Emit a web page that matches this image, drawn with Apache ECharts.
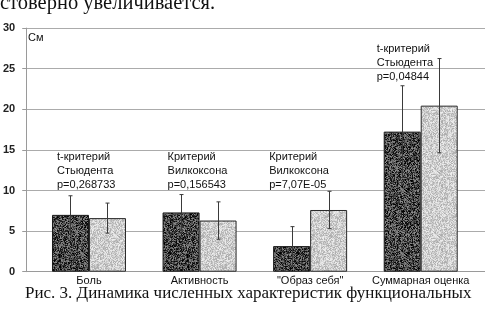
<!DOCTYPE html>
<html>
<head>
<meta charset="utf-8">
<script src="https://cdn.jsdelivr.net/npm/echarts@6/dist/echarts.min.js"></script>
<style>
html,body{margin:0;padding:0;background:#fff;}
#chart{width:485px;height:314px;}
</style>
</head>
<body>
<div id="chart"></div>
<script>
// ---- data ----
const categories = ['Боль', 'Активность', '"Образ себя"', 'Суммарная оценка'];
const beforeValues = [7.0, 7.3, 3.15, 17.25];
const afterValues = [6.6, 6.3, 7.6, 20.45];
const beforeErrors = [2.35, 2.2, 2.4, 5.65];
const afterErrors = [1.85, 2.3, 2.3, 5.8];
const testLabels = [
  't-критерий\nСтьюдента\np=0,268733',
  'Критерий\nВилкоксона\np=0,156543',
  'Критерий\nВилкоксона\np=7,07E-05',
  't-критерий\nСтьюдента\np=0,04844'
];
const testLabelLevels = [15, 15, 15, 28.25];
const yMin = 0, yMax = 30, yStep = 5;
const unitLabel = 'См';
const topText = 'стоверно увеличивается.';
const captionText = 'Рис. 3. Динамика численных характеристик функциональных';

// ---- styling helpers ----
const labelDx = [-32, -32, -41, -44];
const BAR_W = 37;
const FONT = '"Liberation Sans", Arial, sans-serif';
const SERIF = '"Liberation Serif", "Times New Roman", serif';

function makePattern(base, spread, seed) {
  const n = 64;
  const c = document.createElement('canvas');
  c.width = n; c.height = n;
  const ctx = c.getContext('2d');
  const img = ctx.createImageData(n, n);
  let s = seed;
  function rnd() { s = (s * 1103515245 + 12345) & 0x7fffffff; return s / 0x7fffffff; }
  for (let i = 0; i < n * n; i++) {
    let v = base + (rnd() - 0.5) * spread;
    v = Math.max(0, Math.min(255, v));
    img.data[i * 4] = v; img.data[i * 4 + 1] = v; img.data[i * 4 + 2] = v; img.data[i * 4 + 3] = 255;
  }
  ctx.putImageData(img, 0, 0);
  return { image: c, repeat: 'repeat' };
}
const darkFill = makePattern(70, 150, 12345);
const lightFill = makePattern(205, 70, 98765);

function errData(vals, errs) {
  return vals.map((v, i) => [i, v - errs[i], v + errs[i]]);
}
function errRender(sign) {
  return function (params, api) {
    const i = api.value(0);
    const lo = api.coord([i, api.value(1)]);
    const hi = api.coord([i, api.value(2)]);
    const x = Math.round(lo[0] + sign * BAR_W / 2) + 0.5;
    const st = { stroke: '#3a3a3a', lineWidth: 1 };
    return {
      type: 'group',
      children: [
        { type: 'line', shape: { x1: x, y1: lo[1], x2: x, y2: hi[1] }, style: st },
        { type: 'line', shape: { x1: x - 2, y1: lo[1], x2: x + 2, y2: lo[1] }, style: st },
        { type: 'line', shape: { x1: x - 2, y1: hi[1], x2: x + 2, y2: hi[1] }, style: st }
      ]
    };
  };
}

const chart = echarts.init(document.getElementById('chart'), null, { renderer: 'canvas' });
const option = {
  backgroundColor: '#fff',
  animation: false,
  grid: [
    { left: 24, right: 0, top: 28.1, bottom: 42.3 },
    { left: 33.7, right: 9, top: 28.1, bottom: 42.3 }
  ],
  xAxis: [
    { gridIndex: 0, type: 'category', data: categories,
      axisLabel: { show: false }, axisTick: { show: false },
      axisLine: { show: true, lineStyle: { color: '#9a9a9a', width: 1 } } },
    { gridIndex: 1, type: 'category', data: categories,
      axisLine: { show: false }, axisTick: { show: false },
      axisLabel: { show: true, color: '#111', fontFamily: FONT, fontSize: 11, margin: 4, interval: 0 } }
  ],
  yAxis: [
    { gridIndex: 0, type: 'value', min: yMin, max: yMax, interval: yStep,
      axisLine: { show: true, lineStyle: { color: '#9a9a9a', width: 1 } },
      axisTick: { show: true, length: 4, lineStyle: { color: '#9a9a9a' } },
      splitLine: { show: true, lineStyle: { color: '#ababab', width: 1 } },
      axisLabel: { color: '#222', fontFamily: FONT, fontSize: 11, margin: 11, fontWeight: 'bold' } },
    { gridIndex: 1, type: 'value', min: yMin, max: yMax, interval: yStep, show: false }
  ],
  series: [
    { type: 'bar', xAxisIndex: 1, yAxisIndex: 1, data: beforeValues, barWidth: BAR_W, barGap: '0%',
      itemStyle: { color: darkFill, borderColor: '#1a1a1a', borderWidth: 1 }, z: 2 },
    { type: 'bar', xAxisIndex: 1, yAxisIndex: 1, data: afterValues, barWidth: BAR_W, barGap: '0%',
      itemStyle: { color: lightFill, borderColor: '#2a2a2a', borderWidth: 1 }, z: 2 },
    { type: 'custom', xAxisIndex: 1, yAxisIndex: 1, data: errData(beforeValues, beforeErrors),
      renderItem: errRender(-1), z: 5, clip: false },
    { type: 'custom', xAxisIndex: 1, yAxisIndex: 1, data: errData(afterValues, afterErrors),
      renderItem: errRender(1), z: 5, clip: false },
    { type: 'custom', xAxisIndex: 1, yAxisIndex: 1, z: 6, clip: false,
      data: testLabelLevels.map((v, i) => [i, v]),
      renderItem: function (params, api) {
        const i = api.value(0);
        const p = api.coord([i, api.value(1)]);
        return { type: 'text', x: p[0] + labelDx[params.dataIndex], y: p[1],
          style: { text: testLabels[params.dataIndex], fill: '#111', font: '11px ' + FONT,
            align: 'left', verticalAlign: 'top', lineHeight: 14 } };
      } }
  ],
  graphic: [
    { type: 'text', left: 28, top: 32, style: { text: unitLabel, fill: '#111', font: '11px ' + FONT } },
    { type: 'text', x: 0, y: 3.6, style: { text: topText, fill: '#111', font: '20.5px ' + SERIF, verticalAlign: 'middle', align: 'left' } },
    { type: 'text', x: 25, y: 294, style: { text: captionText, fill: '#111', font: '17px ' + SERIF, verticalAlign: 'middle', align: 'left' } }
  ]
};
chart.setOption(option);
</script>
</body>
</html>
